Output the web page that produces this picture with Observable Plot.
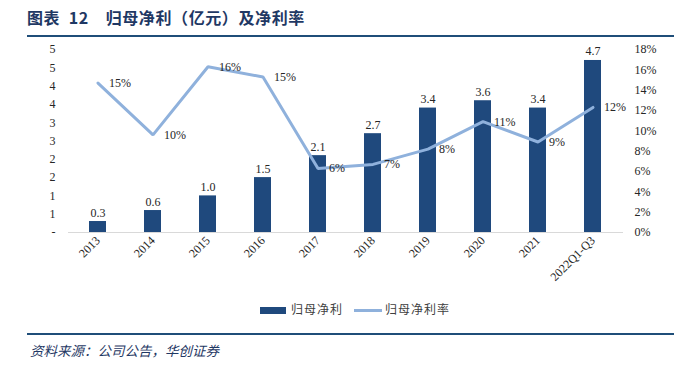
<!DOCTYPE html>
<html>
<head>
<meta charset="utf-8">
<script src="https://cdn.jsdelivr.net/npm/d3@7"></script>
<script src="https://cdn.jsdelivr.net/npm/@observablehq/plot@0.6"></script>
<style>
  html, body { margin: 0; padding: 0; background: #fff; }
  #page { position: relative; width: 686px; height: 365px; overflow: hidden; }
  .title { position: absolute; left: 27px; top: 5px; font-family: "Noto Sans CJK SC", sans-serif; font-weight: 700; font-size: 16px; color: #1f3864; white-space: nowrap; letter-spacing: 0.6px; }
  .hr { position: absolute; left: 27px; width: 647px; background: #1f4e79; }
  #chart { position: absolute; left: 0; top: 40px; }
  .legend { position: absolute; top: 300px; left: 0; width: 686px; height: 16px; font-family: "Noto Sans CJK SC", sans-serif; font-size: 12px; color: #404040; }
  .footer { position: absolute; left: 30px; top: 340px; font-family: "Noto Sans CJK SC", sans-serif; font-style: italic; font-size: 13.5px; color: #1f3864; white-space: nowrap; }
</style>
</head>
<body>
<div id="page">
  <div class="title">图表&nbsp;&nbsp;12&nbsp;&nbsp;&nbsp;&nbsp;归母净利（亿元）及净利率</div>
  <div class="hr" style="top:35px;height:2px;"></div>
  <div id="chart"></div>
  <div class="legend" id="legend"></div>
  <div class="hr" style="top:333px;height:1.5px;"></div>
  <div class="footer">资料来源：公司公告，华创证券</div>
</div>
<script>
// ---- data ----
const years = ["2013","2014","2015","2016","2017","2018","2019","2020","2021","2022Q1-Q3"];
const profit = [0.3, 0.6, 1.0, 1.5, 2.1, 2.7, 3.4, 3.6, 3.4, 4.7];
const profitLabels = ["0.3","0.6","1.0","1.5","2.1","2.7","3.4","3.6","3.4","4.7"];
const netMargin = [14.7, 9.6, 16.3, 15.3, 6.3, 6.7, 8.2, 10.9, 8.9, 12.3];
const marginLabels = ["15%","10%","16%","15%","6%","7%","8%","11%","9%","12%"];
const leftTickValues = [0, 0.5, 1, 1.5, 2, 2.5, 3, 3.5, 4, 4.5, 5];
const leftTickLabels = ["-","1","1","2","2","3","3","4","4","5","5"];
const rightTickValues = [0, 2, 4, 6, 8, 10, 12, 14, 16, 18];
const rightTickLabels = ["0%","2%","4%","6%","8%","10%","12%","14%","16%","18%"];
const seriesNames = ["归母净利", "归母净利率"];

const barColor = "#1f497d";
const lineColor = "#8fb1dc";

// secondary axis mapping (percent -> primary units)
const pct = d3.scaleLinear([0, 18], [0, 5]);

const data = years.map((y, i) => ({
  year: y, profit: profit[i], pLabel: profitLabels[i],
  margin: netMargin[i], mLabel: marginLabels[i]
}));

const chart = Plot.plot({
  width: 686,
  height: 260,
  marginTop: 9,
  marginBottom: 68,
  marginLeft: 68,
  marginRight: 63,
  style: { fontFamily: "'Liberation Serif', 'Times New Roman', serif", fontSize: "12px", color: "#262626", background: "transparent" },
  x: { type: "band", domain: years, paddingInner: 0.69, paddingOuter: 0.345, axis: null },
  y: { domain: [0, 5], axis: null },
  marks: [
    Plot.ruleY([0], { stroke: "#d9d9d9", strokeWidth: 1 }),
    Plot.barY(data, { x: "year", y: "profit", fill: barColor }),
    Plot.text(data, { x: "year", y: "profit", text: "pLabel", lineAnchor: "bottom", dy: -5, fill: "#262626", fontSize: 12 }),
    Plot.line(data, { x: "year", y: d => pct(d.margin), stroke: lineColor, strokeWidth: 3, strokeLinejoin: "miter" }),
    Plot.text(data, { x: "year", y: d => pct(d.margin), text: "mLabel", textAnchor: "start", dx: 11, fill: "#262626", fontSize: 12 }),
    Plot.axisY(leftTickValues, { anchor: "left", tickSize: 0, tickPadding: 13, tickFormat: (d, i) => leftTickLabels[leftTickValues.indexOf(d)], label: null, fontSize: 12 }),
    Plot.axisY(rightTickValues.map(v => pct(v)), { anchor: "right", tickSize: 0, tickPadding: 11, textAnchor: "start", tickFormat: d => rightTickLabels[rightTickValues.indexOf(Math.round(pct.invert(d)))], label: null, fontSize: 12 }),
    Plot.axisX({ tickRotate: -45, tickSize: 0, tickPadding: 6, label: null, fontSize: 12 })
  ]
});
document.getElementById("chart").appendChild(chart);

// legend
const legend = document.getElementById("legend");
legend.innerHTML = `
  <div style="position:absolute;left:260px;top:7px;width:26px;height:7px;background:${barColor}"></div>
  <div style="position:absolute;left:291px;top:0px;letter-spacing:1px;">${seriesNames[0]}</div>
  <div style="position:absolute;left:354px;top:9px;width:28px;height:3px;background:${lineColor}"></div>
  <div style="position:absolute;left:385px;top:0px;letter-spacing:1px;">${seriesNames[1]}</div>`;
</script>
</body>
</html>
